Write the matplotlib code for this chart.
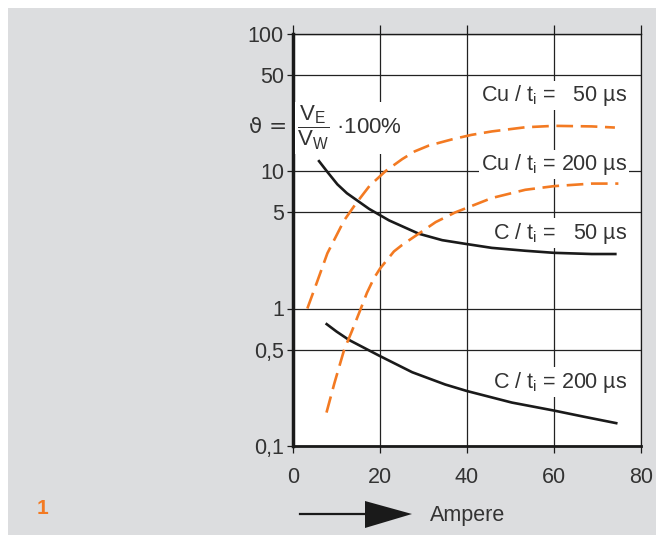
import matplotlib
matplotlib.use("Agg")
import matplotlib.pyplot as plt
from matplotlib.patches import Rectangle, Polygon
from matplotlib.lines import Line2D

plt.rcParams['font.family'] = ['Liberation Sans', 'DejaVu Sans']
plt.rcParams['mathtext.fontset'] = 'custom'
plt.rcParams['mathtext.rm'] = 'Liberation Sans'
plt.rcParams['mathtext.it'] = 'Liberation Sans:italic'
plt.rcParams['mathtext.bf'] = 'Liberation Sans:bold'
plt.rcParams['lines.scale_dashes'] = False

# ---- data ----
c50_x = [5.8, 8.0, 10.2, 12.4, 14.8, 17.5, 22.1, 28.9, 34.3, 40, 45.7, 53.4, 60,
         68.7, 74.4]
c50_y = [12.0, 9.76, 8.0, 6.89, 6.09, 5.3, 4.37, 3.5, 3.14, 2.94, 2.76, 2.63,
         2.54, 2.49, 2.49]

c200_x = [7.5, 10, 12.9, 19.8, 27.4, 35, 40, 50.3, 60, 67, 74.6]
c200_y = [0.78, 0.68, 0.59, 0.454, 0.344, 0.28, 0.251, 0.207, 0.181, 0.163, 0.146]

cu50_x = [3.3, 5.5, 7.9, 11.75, 14.4, 17.6, 21.3, 25.1, 28, 31.2, 36.6, 41,
          45.7, 53.4, 60, 68.7, 74]
cu50_y = [1.0, 1.55, 2.52, 4.37, 5.76, 7.8, 10.0, 12.2, 13.9, 15.3, 17.0, 18.3,
          19.4, 20.8, 21.3, 21.1, 20.7]

cu200_x = [7.7, 9.5, 11.75, 13.5, 15.6, 17, 18.6, 20, 23.2, 25.1, 28.9, 32.8,
           37.3, 40, 45.7, 53.4, 60, 68.7, 74.8]
cu200_y = [0.175, 0.285, 0.5, 0.68, 1.0, 1.3, 1.66, 1.95, 2.6, 2.9, 3.5, 4.25,
           5.0, 5.4, 6.36, 7.3, 7.76, 8.1, 8.1]

x_ticks = [0, 20, 40, 60, 80]
y_ticks = [0.1, 0.5, 1, 5, 10, 50, 100]
y_tick_labels = ['0,1', '0,5', '1', '5', '10', '50', '100']

labels = ['Cu / t$_\\mathrm{i}$ =   50 µs', 'Cu / t$_\\mathrm{i}$ = 200 µs',
          'C / t$_\\mathrm{i}$ =   50 µs', 'C / t$_\\mathrm{i}$ = 200 µs']
label_y = [35.3, 11.2, 3.54, 0.292]

W, H = 656, 539
fig = plt.figure(figsize=(W / 100, H / 100), dpi=100, facecolor='white')
fig.patches.append(Rectangle((8 / W, 4 / H), 1 - 8 / W, (H - 12) / H,
                             transform=fig.transFigure, facecolor='#dcdddf',
                             edgecolor='none', zorder=-10))

ax = fig.add_axes([293 / W, 93 / H, 348 / W, 412.5 / H])
ax.set_zorder(1)
ax.set_facecolor('white')
ax.set_yscale('log')
ax.set_xlim(0, 80)
ax.set_ylim(0.1, 100)

txtc = '#333333'
fs = 15.5
orange = '#f37a22'
black = '#1a1a1a'

ax.set_xticks(x_ticks)
ax.set_xticklabels([str(v) for v in x_ticks])
ax.set_yticks(y_ticks)
ax.set_yticklabels(y_tick_labels)
ax.yaxis.set_minor_locator(matplotlib.ticker.NullLocator())
ax.tick_params(axis='x', which='major', direction='out', length=5, width=0.9,
               color=black, labelsize=fs, labelcolor=txtc, pad=10,
               top=True, bottom=True)
for t in ax.xaxis.get_major_ticks():
    t.tick2line.set_markersize(6.8)
ax.tick_params(axis='y', which='major', direction='out', length=4, width=0.9,
               color=black, labelsize=fs, labelcolor=txtc, pad=2.5)

ax.grid(True, which='major', color='#222222', linewidth=0.9)
ax.set_axisbelow(True)

ax.spines['left'].set_linewidth(2.5)
ax.spines['bottom'].set_linewidth(2.0)
ax.spines['right'].set_linewidth(0.9)
ax.spines['top'].set_linewidth(1.0)
for s in ax.spines.values():
    s.set_color(black)

ax.plot(c50_x, c50_y, color=black, lw=1.9, solid_capstyle='butt', zorder=5)
ax.plot(c200_x, c200_y, color=black, lw=1.9, solid_capstyle='butt', zorder=5)
ax.plot(cu50_x, cu50_y, color=orange, lw=1.9, dashes=(12, 5.5), zorder=5)
ax.plot(cu200_x, cu200_y, color=orange, lw=1.9, dashes=(12, 5.5), zorder=5)

for lab, yy in zip(labels, label_y):
    ax.text(76.8, yy, lab, ha='right', va='center', fontsize=fs, color=txtc,
            zorder=4, bbox=dict(facecolor='white', edgecolor='none', pad=1.5))

# formula
ax.text(-1.4, 21.0, '\u03d1 =', ha='right', va='center', fontsize=fs,
        color=txtc, clip_on=False, family=['DejaVu Sans'])
ax.text(0.9, 20.5, r'$\dfrac{\mathrm{V}_\mathrm{E}}{\mathrm{V}_\mathrm{W}}$' + ' \u00b7100%',
        ha='left', va='center', fontsize=16, color=txtc, zorder=4,
        bbox=dict(facecolor='white', edgecolor='none', pad=1.5))

# orange figure number
fig.text(42 / W, 1 - 509 / H, '1', ha='center', va='center', fontsize=15,
         fontweight='bold', color=orange)

# arrow
fig.lines.append(Line2D([300 / W, 370 / W], [1 - 514 / H, 1 - 514 / H],
                        transform=fig.transFigure, color=black, lw=1.6))
fig.patches.append(Polygon([(365 / W, 1 - 501 / H), (412 / W, 1 - 514 / H),
                            (365 / W, 1 - 528 / H)], closed=True,
                           transform=fig.transFigure, facecolor=black,
                           edgecolor='none'))
fig.text(430 / W, 1 - 515 / H, 'Ampere', ha='left', va='center', fontsize=fs,
         color=txtc)

fig.savefig('out.png', dpi=100, facecolor='white')
